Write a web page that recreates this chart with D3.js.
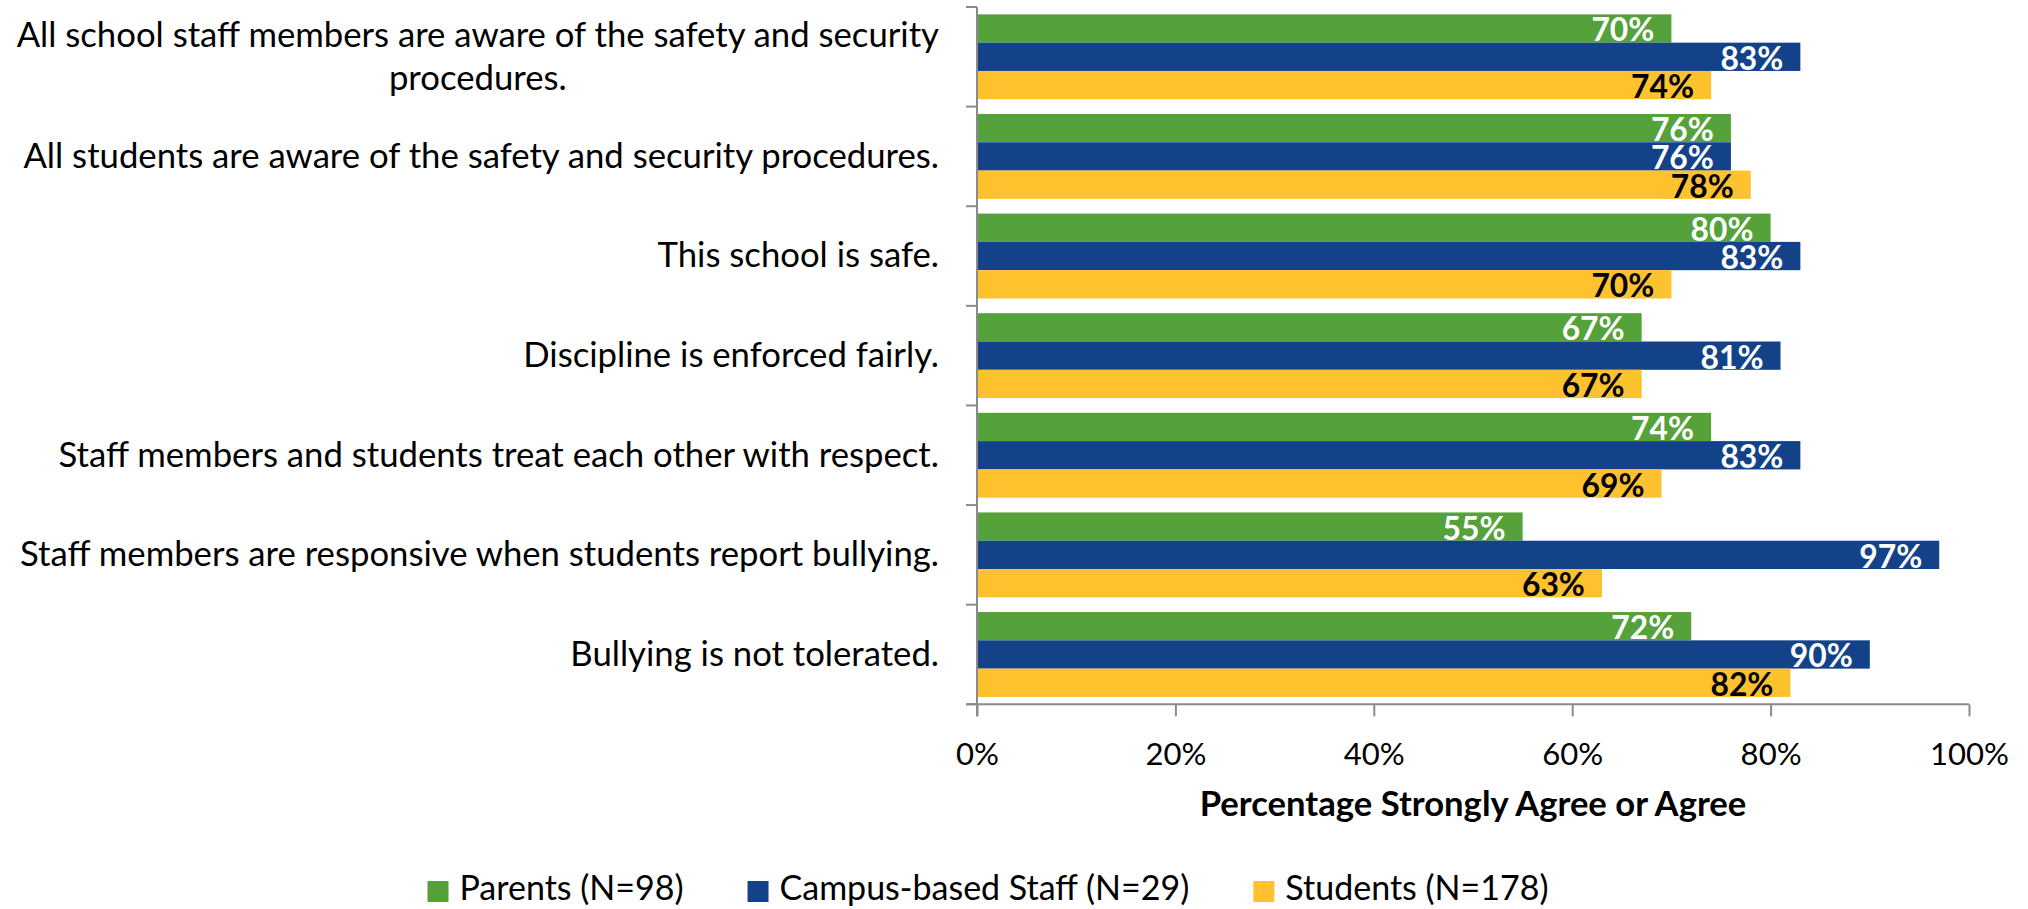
<!DOCTYPE html>
<html>
<head>
<meta charset="utf-8">
<script src="https://cdn.jsdelivr.net/npm/d3@7"></script>
<style>
  html, body { margin: 0; padding: 0; background: #fff; }
  svg { display: block; }
  text { font-family: Lato, "Open Sans", sans-serif; }
</style>
</head>
<body>
<svg id="chart" width="2028" height="909"></svg>
<script>
// ---- data ----
const categories = [
  "All school staff members are aware of the safety and security procedures.",
  "All students are aware of the safety and security procedures.",
  "This school is safe.",
  "Discipline is enforced fairly.",
  "Staff members and students treat each other with respect.",
  "Staff members are responsive when students report bullying.",
  "Bullying is not tolerated."
];
const categoryLines = [
  ["All school staff members are aware of the safety and security", "procedures."],
  ["All students are aware of the safety and security procedures."],
  ["This school is safe."],
  ["Discipline is enforced fairly."],
  ["Staff members and students treat each other with respect."],
  ["Staff members are responsive when students report bullying."],
  ["Bullying is not tolerated."]
];
const seriesNames = ["Parents (N=98)", "Campus-based Staff (N=29)", "Students (N=178)"];
const parents = [0.70, 0.76, 0.80, 0.67, 0.74, 0.55, 0.72];
const staff   = [0.83, 0.76, 0.83, 0.81, 0.83, 0.97, 0.90];
const students= [0.74, 0.78, 0.70, 0.67, 0.69, 0.63, 0.82];
const tickValues = [0, 0.2, 0.4, 0.6, 0.8, 1.0];
const axisTitle = "Percentage Strongly Agree or Agree";

// ---- styles ----
const colors = ["#55A13A", "#144289", "#FFC22F"];
const labelColors = ["#ffffff", "#ffffff", "#000000"];
const axisColor = "#8a8a8a";

const seriesValues = [parents, staff, students];
const rows = categories.map((c, i) => ({
  cat: c, lines: categoryLines[i],
  vals: seriesNames.map((s, k) => ({ series: s, k, v: seriesValues[k][i] }))
}));

const svg = d3.select("#chart");

// font fitting helper: size so that sample text has the target width
function fitSize(sample, target, weight) {
  const t = svg.append("text").attr("font-size", 100).attr("font-weight", weight || "normal").text(sample);
  const w = t.node().getComputedTextLength();
  t.remove();
  return 100 * target / w;
}
const catSize   = fitSize("All students are aware of the safety and security procedures.", 916);
const valSize   = fitSize("97%", 63, "bold");
const tickSize  = fitSize("100%", 79);
const titleSize = fitSize(axisTitle, 547, "bold");
const legSize   = fitSize("Campus-based Staff (N=29)", 410);

const x = d3.scaleLinear().domain([0, 1]).range([977, 1969]);
const y0 = d3.scaleBand().domain(categories).range([7, 704.3]).paddingInner(0).paddingOuter(0);
const y1 = d3.scaleBand().domain(seriesNames).range([0, y0.bandwidth()]).paddingInner(0).paddingOuter(0.26);

// bars
const g = svg.append("g");
const groups = g.selectAll("g.cat").data(rows).join("g")
  .attr("class", "cat")
  .attr("transform", d => `translate(0,${y0(d.cat)})`);

groups.selectAll("rect").data(d => d.vals).join("rect")
  .attr("x", x(0))
  .attr("y", d => y1(d.series))
  .attr("width", d => x(d.v) - x(0))
  .attr("height", y1.bandwidth())
  .attr("fill", d => colors[d.k]);

groups.selectAll("text.val").data(d => d.vals).join("text")
  .attr("class", "val")
  .attr("x", d => x(d.v) - 17)
  .attr("y", d => y1(d.series) + y1.bandwidth() / 2 + 1.5)
  .attr("dy", "0.36em")
  .attr("text-anchor", "end")
  .attr("font-size", valSize)
  .attr("font-weight", "bold")
  .attr("fill", d => labelColors[d.k])
  .text(d => d3.format(".0%")(d.v));

// y axis line and boundary ticks
const edges = categories.map(c => y0(c)).concat([y0.range()[1]]);
svg.append("g").selectAll("line").data(edges).join("line")
  .attr("x1", x(0) - 11).attr("x2", x(0))
  .attr("y1", d => d).attr("y2", d => d)
  .attr("stroke", axisColor).attr("stroke-width", 2);
svg.append("line")
  .attr("x1", x(0)).attr("x2", x(0))
  .attr("y1", y0.range()[0]).attr("y2", y0.range()[1] + 12)
  .attr("stroke", axisColor).attr("stroke-width", 2);

// category labels
const catLabels = svg.append("g").selectAll("text").data(rows).join("text")
  .attr("text-anchor", "middle")
  .attr("font-size", catSize)
  .attr("fill", "#000");
catLabels.each(function(d) {
  const t = d3.select(this);
  const cy = y0(d.cat) + y0.bandwidth() / 2;
  const lh = 43;
  const n = d.lines.length;
  d.lines.forEach((ln, j) => {
    t.append("tspan").attr("y", cy + (j - (n - 1) / 2) * lh).attr("dy", "0.33em").text(ln);
  });
});
catLabels.each(function(d) {
  const t = d3.select(this);
  let w = 0;
  t.selectAll("tspan").each(function() { w = Math.max(w, this.getComputedTextLength()); });
  t.selectAll("tspan").attr("x", 939 - w / 2);
});

// x axis
const xAxis = d3.axisBottom(x).tickValues(tickValues).tickSize(12).tickFormat(d3.format(".0%"));
const xAxisG = svg.append("g").attr("transform", `translate(0,${y0.range()[1]})`).call(xAxis);
xAxisG.select(".domain").attr("stroke", axisColor).attr("stroke-width", 2)
  .attr("d", `M${x(0) - 11},0H${x(1)}`);
xAxisG.selectAll(".tick line").attr("stroke", axisColor).attr("stroke-width", 2);
xAxisG.selectAll(".tick text")
  .attr("font-family", "Lato, 'Open Sans', sans-serif")
  .attr("font-size", tickSize).attr("fill", "#000")
  .attr("y", 0).attr("dy", 0)
  .attr("transform", "translate(0,61)");

// axis title
svg.append("text")
  .attr("x", (x(0) + x(1)) / 2).attr("y", 816)
  .attr("text-anchor", "middle")
  .attr("font-size", titleSize).attr("font-weight", "bold")
  .text(axisTitle);

// legend
const legend = svg.append("g");
const items = legend.selectAll("g").data(seriesNames).join("g");
items.append("rect").attr("width", 21).attr("height", 21).attr("y", 881)
  .attr("fill", (d, i) => colors[i]);
items.append("text").attr("x", 32).attr("y", 900).attr("font-size", legSize).text(d => d);
let cursor = 0;
const positions = [];
items.each(function(d, i) {
  const w = d3.select(this).select("text").node().getComputedTextLength();
  positions.push(cursor);
  cursor += 32 + w + (i < seriesNames.length - 1 ? 64 : 0);
});
const start = 988 - cursor / 2;
items.attr("transform", (d, i) => `translate(${start + positions[i]},0)`);
</script>
</body>
</html>
